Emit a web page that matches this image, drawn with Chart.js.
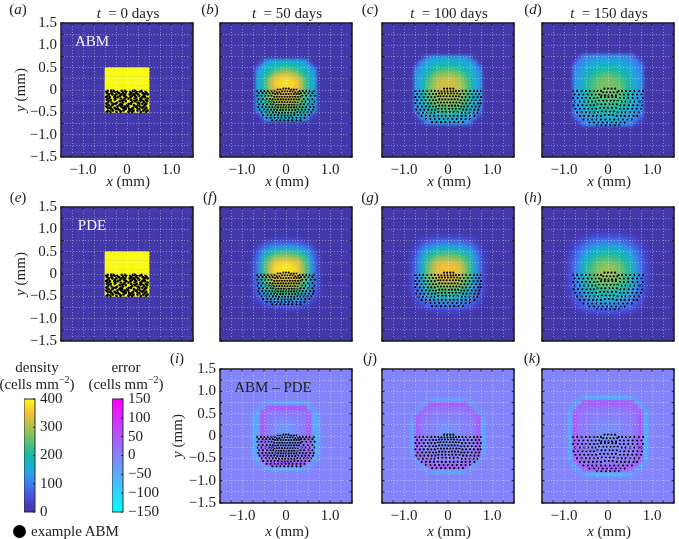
<!DOCTYPE html>
<html>
<head>
<meta charset="utf-8">
<title>ABM and PDE density</title>
<script src="https://cdn.jsdelivr.net/npm/chart.js@4/dist/chart.umd.min.js"></script>
<style>
html, body { margin: 0; padding: 0; background: #fff; overflow: hidden; }
#page { position: relative; width: 679px; height: 539px; overflow: hidden; font-family: "Liberation Serif", serif; color: #222; }
canvas { position: absolute; }
.t { position: absolute; font-size: 15px; line-height: 1; white-space: nowrap; transform: translate(-50%, -50%); }
.t sup { font-size: 10px; line-height: 0; }
.r { transform: translate(-50%, -50%) rotate(-90deg); }
.w { color: #f4f4ff; }
#dot { position: absolute; left: 13px; top: 525px; width: 13px; height: 13px; border-radius: 50%; background: #000; }
</style>
</head>
<body>
<div id="page"><div id="dot"></div></div>
<script>
// tick labels
const xTickLabels = [-1, 0, 1];
const yTickLabels = [-1.5, -1, -0.5, 0, 0.5, 1, 1.5];
const densityTicks = [0, 100, 200, 300, 400];
const errorTicks = [-150, -100, -50, 0, 50, 100, 150];
const densityLevels = [0,10,20,30,40,50,60,70,80,90,100,110,120,130,140,150,160,170,180,190,200,210,220,230,240,250,260,270,280,290,300,310,320,330,340,350,360,370,380,390];
const errorLevels = [-150,-140,-130,-120,-110,-100,-90,-80,-70,-60,-50,-40,-30,-20,-10,0,10,20,30,40,50,60,70,80,90,100,110,120,130,140];

// density, square windows of cells centred on the origin (cells mm^-2)
const densityBg = 8;
const errorBg = 0;
const abm0 = [
[400,400,400,400,400,400,400,400,400,400],
[400,400,400,400,400,400,400,400,400,400],
[400,400,400,400,400,400,400,400,400,400],
[400,400,400,400,400,400,400,400,400,400],
[400,400,400,400,400,400,400,400,400,400],
[400,400,400,400,400,400,400,400,400,400],
[400,400,400,400,400,400,400,400,400,400],
[400,400,400,400,400,400,400,400,400,400],
[400,400,400,400,400,400,400,400,400,400],
[400,400,400,400,400,400,400,400,400,400]];
const abm50 = [
[8,40,125,140,150,155,160,160,155,150,140,125,40,8],
[40,135,155,170,185,195,205,205,195,185,170,155,135,40],
[125,150,175,205,230,250,260,260,250,230,205,175,150,125],
[140,165,200,245,285,315,330,330,315,285,245,200,165,140],
[150,180,235,295,340,362,372,372,362,340,295,235,180,150],
[150,185,245,310,355,375,382,382,375,355,310,245,185,150],
[150,185,245,305,350,368,375,375,368,350,305,245,185,150],
[150,180,240,295,335,355,362,362,355,335,295,240,180,150],
[150,178,230,280,315,335,342,342,335,315,280,230,178,150],
[145,172,220,265,295,315,322,322,315,295,265,220,172,145],
[140,165,205,240,270,285,292,292,285,270,240,205,165,140],
[130,155,185,215,235,250,255,255,250,235,215,185,155,130],
[40,140,160,180,195,205,210,210,205,195,180,160,140,40],
[8,40,130,145,155,160,165,165,160,155,145,130,40,8]];
const abm100 = [
[8,8,70,120,130,135,140,140,140,140,135,130,120,70,8,8],
[8,95,130,145,155,160,165,170,170,165,160,155,145,130,95,8],
[70,130,150,165,180,190,200,205,205,200,190,180,165,150,130,70],
[115,140,165,190,210,230,245,250,250,245,230,210,190,165,140,115],
[125,150,180,215,245,270,285,290,290,285,270,245,215,180,150,125],
[130,155,195,235,270,295,312,318,318,312,295,270,235,195,155,130],
[130,160,205,250,285,310,325,332,332,325,310,285,250,205,160,130],
[130,160,205,250,285,310,325,330,330,325,310,285,250,205,160,130],
[130,160,205,245,280,305,318,322,322,318,305,280,245,205,160,130],
[130,155,200,240,270,295,305,310,310,305,295,270,240,200,155,130],
[130,155,190,225,255,280,290,295,295,290,280,255,225,190,155,130],
[125,150,180,210,235,255,265,270,270,265,255,235,210,180,150,125],
[115,140,165,190,210,225,235,240,240,235,225,210,190,165,140,115],
[70,130,150,170,185,195,205,208,208,205,195,185,170,150,130,70],
[8,95,130,145,155,165,170,172,172,170,165,155,145,130,95,8],
[8,8,70,120,130,135,140,140,140,140,135,130,120,70,8,8]];
const abm150 = [
[8,35,95,110,115,118,120,120,120,120,118,115,110,95,35,8],
[35,105,115,125,135,140,145,148,148,145,140,135,125,115,105,35],
[95,115,130,145,155,165,172,178,178,172,165,155,145,130,115,95],
[110,125,145,165,180,195,205,210,210,205,195,180,165,145,125,110],
[115,130,160,185,205,220,232,238,238,232,220,205,185,160,130,115],
[118,140,170,200,222,240,252,258,258,252,240,222,200,170,140,118],
[120,145,175,210,235,252,265,270,270,265,252,235,210,175,145,120],
[120,145,178,212,238,255,268,272,272,268,255,238,212,178,145,120],
[120,145,175,210,235,250,262,266,266,262,250,235,210,175,145,120],
[120,145,172,205,228,243,252,256,256,252,243,228,205,172,145,120],
[120,140,165,195,218,232,240,245,245,240,232,218,195,165,140,120],
[118,135,158,182,202,215,222,226,226,222,215,202,182,158,135,118],
[112,128,148,168,185,195,202,205,205,202,195,185,168,148,128,112],
[95,118,135,150,165,175,180,183,183,180,175,165,150,135,118,95],
[35,105,120,130,142,150,155,158,158,155,150,142,130,120,105,35],
[8,35,95,110,118,122,125,125,125,125,122,118,110,95,35,8]];
const pde50 = [
[8,8,12,18,25,30,34,36,36,34,30,25,18,12,8,8],
[8,15,40,65,85,95,100,105,105,100,95,85,65,40,15,8],
[12,40,90,125,145,160,170,175,175,170,160,145,125,90,40,12],
[18,65,125,175,205,225,240,245,245,240,225,205,175,125,65,18],
[25,80,150,215,265,295,310,318,318,310,295,265,215,150,80,25],
[28,90,165,240,305,345,362,370,370,362,345,305,240,165,90,28],
[30,95,175,255,325,368,385,390,390,385,368,325,255,175,95,30],
[30,95,175,255,325,365,382,388,388,382,365,325,255,175,95,30],
[30,95,172,250,315,355,372,378,378,372,355,315,250,172,95,30],
[28,90,165,235,295,335,350,355,355,350,335,295,235,165,90,28],
[28,85,155,215,265,300,315,320,320,315,300,265,215,155,85,28],
[25,75,135,185,225,250,262,268,268,262,250,225,185,135,75,25],
[20,62,110,150,180,200,210,215,215,210,200,180,150,110,62,20],
[14,40,80,110,135,150,158,162,162,158,150,135,110,80,40,14],
[8,18,40,65,85,95,100,105,105,100,95,85,65,40,18,8],
[8,8,12,20,28,34,36,38,38,36,34,28,20,12,8,8]];
const pde100 = [
[8,8,8,12,16,20,24,26,28,28,26,24,20,16,12,8,8,8],
[8,8,20,38,50,58,64,68,70,70,68,64,58,50,38,20,8,8],
[8,20,50,78,95,108,118,124,128,128,124,118,108,95,78,50,20,8],
[12,35,78,115,140,158,170,178,182,182,178,170,158,140,115,78,35,12],
[16,50,100,145,180,205,222,232,238,238,232,222,205,180,145,100,50,16],
[20,60,115,170,215,250,272,285,290,290,285,272,250,215,170,115,60,20],
[22,65,125,185,240,285,315,330,338,338,330,315,285,240,185,125,65,22],
[25,70,130,195,255,305,338,352,358,358,352,338,305,255,195,130,70,25],
[25,70,132,198,258,308,340,355,360,360,355,340,308,258,198,132,70,25],
[25,70,130,195,252,300,330,345,350,350,345,330,300,252,195,130,70,25],
[22,68,125,185,240,282,310,325,330,330,325,310,282,240,185,125,68,22],
[22,62,118,172,222,258,282,295,300,300,295,282,258,222,172,118,62,22],
[20,55,105,152,195,225,245,255,260,260,255,245,225,195,152,105,55,20],
[16,46,90,130,165,190,205,215,218,218,215,205,190,165,130,90,46,16],
[12,32,68,102,130,150,162,170,172,172,170,162,150,130,102,68,32,12],
[8,18,45,70,90,105,115,120,122,122,120,115,105,90,70,45,18,8],
[8,8,20,34,46,54,60,64,66,66,64,60,54,46,34,20,8,8],
[8,8,8,12,16,20,22,24,26,26,24,22,20,16,12,8,8,8]];
const pde150 = [
[8,8,8,8,8,10,14,16,18,18,18,18,16,14,10,8,8,8,8,8],
[8,8,10,16,24,32,38,44,48,50,50,48,44,38,32,24,16,10,8,8],
[8,10,20,34,50,64,76,84,90,92,92,90,84,76,64,50,34,20,10,8],
[10,18,36,58,80,98,112,122,128,132,132,128,122,112,98,80,58,36,18,10],
[10,26,52,80,106,128,145,158,166,170,170,166,158,145,128,106,80,52,26,10],
[14,34,66,100,130,155,175,190,200,205,205,200,190,175,155,130,100,66,34,14],
[16,40,76,116,150,180,203,220,232,238,238,232,220,203,180,150,116,76,40,16],
[18,44,84,128,165,198,225,245,258,265,265,258,245,225,198,165,128,84,44,18],
[20,48,90,136,176,212,242,265,280,288,288,280,265,242,212,176,136,90,48,20],
[20,48,92,140,180,218,250,272,288,296,296,288,272,250,218,180,140,92,48,20],
[20,48,92,138,178,215,245,268,282,290,290,282,268,245,215,178,138,92,48,20],
[20,48,90,134,172,208,236,256,270,278,278,270,256,236,208,172,134,90,48,20],
[18,44,84,126,162,195,222,240,252,258,258,252,240,222,195,162,126,84,44,18],
[16,40,76,114,148,176,198,214,225,230,230,225,214,198,176,148,114,76,40,16],
[14,34,66,98,128,152,172,186,195,200,200,195,186,172,152,128,98,66,34,14],
[12,28,54,82,108,128,145,158,165,170,170,165,158,145,128,108,82,54,28,12],
[10,20,40,64,86,102,116,125,130,134,134,130,125,116,102,86,64,40,20,10],
[8,12,24,42,58,72,82,90,95,97,97,95,90,82,72,58,42,24,12,8],
[8,8,12,20,30,38,46,50,54,55,55,54,50,46,38,30,20,12,8,8],
[8,8,8,8,8,10,14,16,18,18,18,18,16,14,10,8,8,8,8,8]];

// ABM - PDE error
const err50 = [
[0,0,-12,-32,-42,-46,-46,-46,-46,-46,-46,-42,-32,-12,0,0],
[0,-20,-36,42,52,55,55,55,55,55,55,52,42,-36,-20,0],
[-12,-40,42,22,16,14,12,12,12,12,14,16,22,42,-40,-12],
[-32,-46,50,14,8,5,3,2,2,3,5,8,14,50,-46,-32],
[-40,-46,55,12,4,0,-5,-8,-8,-5,0,4,12,55,-46,-40],
[-40,-46,55,10,2,-6,-14,-18,-18,-14,-6,2,10,55,-46,-40],
[-40,-46,55,10,0,-10,-20,-26,-26,-20,-10,0,10,55,-46,-40],
[-40,-46,55,10,0,-12,-22,-28,-28,-22,-12,0,10,55,-46,-40],
[-40,-46,55,10,0,-12,-22,-28,-28,-22,-12,0,10,55,-46,-40],
[-40,-46,55,10,0,-10,-20,-26,-26,-20,-10,0,10,55,-46,-40],
[-40,-46,55,10,2,-6,-14,-18,-18,-14,-6,2,10,55,-46,-40],
[-40,-46,55,12,4,0,-5,-8,-8,-5,0,4,12,55,-46,-40],
[-32,-46,50,14,8,5,3,2,2,3,5,8,14,50,-46,-32],
[-12,-40,42,22,16,14,12,12,12,12,14,16,22,42,-40,-12],
[0,-20,-36,42,52,55,55,55,55,55,55,52,42,-36,-20,0],
[0,0,-12,-32,-42,-46,-46,-46,-46,-46,-46,-42,-32,-12,0,0]];
const err100 = [
[0,0,0,-12,-26,-36,-44,-44,-44,-44,-44,-44,-36,-26,-12,0,0,0],
[0,0,-14,-34,42,50,52,52,52,52,52,52,50,42,-34,-14,0,0],
[0,-10,-34,42,22,16,14,14,14,14,14,14,16,22,42,-34,-10,0],
[-4,-30,38,22,12,10,8,6,5,5,6,8,10,12,22,38,-30,-4],
[-24,42,24,12,8,5,3,2,1,1,2,3,5,8,12,24,42,-24],
[-38,50,14,8,5,2,0,-4,-6,-6,-4,0,2,5,8,14,50,-38],
[-44,52,12,6,4,0,-6,-12,-15,-15,-12,-6,0,4,6,12,52,-44],
[-44,52,12,6,3,-2,-10,-16,-20,-20,-16,-10,-2,3,6,12,52,-44],
[-44,52,12,6,3,-3,-12,-18,-22,-22,-18,-12,-3,3,6,12,52,-44],
[-44,52,12,6,3,-3,-12,-18,-22,-22,-18,-12,-3,3,6,12,52,-44],
[-44,52,12,6,3,-2,-10,-16,-20,-20,-16,-10,-2,3,6,12,52,-44],
[-44,52,12,6,4,0,-6,-12,-15,-15,-12,-6,0,4,6,12,52,-44],
[-38,50,14,8,5,2,0,-4,-6,-6,-4,0,2,5,8,14,50,-38],
[-24,42,24,12,8,5,3,2,1,1,2,3,5,8,12,24,42,-24],
[-4,-30,38,22,12,10,8,6,5,5,6,8,10,12,22,38,-30,-4],
[0,-10,-34,42,22,16,14,14,14,14,14,14,16,22,42,-34,-10,0],
[0,0,-14,-34,42,50,52,52,52,52,52,52,50,42,-34,-14,0,0],
[0,0,0,-12,-26,-36,-44,-44,-44,-44,-44,-44,-36,-26,-12,0,0,0]];
const err150 = [
[0,0,-16,-36,-50,-58,-60,-60,-60,-60,-60,-60,-58,-50,-36,-16,0,0],
[0,-22,-42,48,58,60,60,60,60,60,60,60,60,58,48,-42,-22,0],
[-16,-46,48,28,22,20,18,16,16,16,16,18,20,22,28,48,-46,-16],
[-42,46,28,16,14,12,10,9,8,8,9,10,12,14,16,28,46,-42],
[-56,56,20,12,10,6,4,3,2,2,3,4,6,10,12,20,56,-56],
[-60,60,18,10,8,3,0,-2,-4,-4,-2,0,3,8,10,18,60,-60],
[-60,60,16,9,6,2,-4,-8,-10,-10,-8,-4,2,6,9,16,60,-60],
[-60,60,15,8,5,0,-6,-12,-15,-15,-12,-6,0,5,8,15,60,-60],
[-60,60,15,8,5,0,-8,-14,-18,-18,-14,-8,0,5,8,15,60,-60],
[-60,60,15,8,5,0,-8,-14,-18,-18,-14,-8,0,5,8,15,60,-60],
[-60,60,15,8,5,0,-6,-12,-15,-15,-12,-6,0,5,8,15,60,-60],
[-60,60,16,9,6,2,-4,-8,-10,-10,-8,-4,2,6,9,16,60,-60],
[-60,60,18,10,8,3,0,-2,-4,-4,-2,0,3,8,10,18,60,-60],
[-56,56,20,12,10,6,4,3,2,2,3,4,6,10,12,20,56,-56],
[-42,46,28,16,14,12,10,9,8,8,9,10,12,14,16,28,46,-42],
[-16,-46,48,28,22,20,18,16,16,16,16,18,20,22,28,48,-46,-16],
[0,-22,-42,48,58,60,60,60,60,60,60,60,60,58,48,-42,-22,0],
[0,0,-16,-36,-50,-58,-60,-60,-60,-60,-60,-60,-58,-50,-36,-16,0,0]];

// example ABM cells, each row is [y, x, x, x, ...] in mm
const dots0 = [
[-0.02,-0.44,-0.36,-0.31,-0.12,-0.05,0.14,0.18,0.33],
[-0.04,-0.47,-0.28,-0.22,-0.02,0.07,0.22,0.29,0.42],
[-0.07,-0.45,-0.35,-0.18,-0.09,0.1,0.2,0.36,0.45],
[-0.1,-0.41,-0.33,-0.24,-0.13,-0.04,0.06,0.15,0.25,0.4,0.47],
[-0.13,-0.44,-0.27,-0.16,-0.07,0.11,0.18,0.28,0.38],
[-0.16,-0.47,-0.39,-0.29,-0.21,-0.02,0.08,0.21,0.35,0.41],
[-0.19,-0.42,-0.25,-0.14,-0.05,0.03,0.17,0.3,0.47],
[-0.22,-0.46,-0.37,-0.28,-0.08,0.09,0.22,0.33,0.43],
[-0.25,-0.41,-0.17,-0.12,-0.03,0.15,0.19,0.29,0.37,0.46],
[-0.28,-0.44,-0.35,-0.23,-0.09,0.1,0.24,0.4],
[-0.31,-0.47,-0.3,-0.25,-0.14,0.04,0.09,0.28,0.35,0.44],
[-0.34,-0.42,-0.33,-0.17,-0.11,0,0.16,0.25,0.41],
[-0.37,-0.47,-0.37,-0.22,-0.13,-0.05,0.03,0.2,0.3,0.38],
[-0.4,-0.44,-0.39,-0.28,-0.09,-0.02,0.14,0.23,0.35,0.44],
[-0.43,-0.35,-0.25,-0.2,-0.04,0.05,0.1,0.28,0.41],
[-0.46,-0.43,-0.32,-0.16,-0.08,0.07,0.15,0.24,0.37,0.47],
[-0.49,-0.46,-0.38,-0.24,-0.14,0.03,0.12,0.31,0.43]];
const dots50 = [
[0.03,-0.06,0,0.06],
[0.01,-0.19,-0.13,0.12,0.18,0.24],
[-0.02,-0.66,-0.57,-0.49,-0.41,-0.33,-0.26,0.31,0.38,0.46,0.54,0.63],
[-0.03,-0.09,-0.03,0.03,0.09,0.15],
[-0.05,-0.21,-0.15,0.21,0.27],
[-0.07,-0.62,-0.53,-0.45,-0.37,-0.3,0.34,0.42,0.51,0.6],
[-0.09,-0.25,-0.19,-0.12,-0.06,0,0.06,0.12,0.18,0.24,0.3],
[-0.13,-0.65,-0.56,-0.48,-0.4,-0.33,0.37,0.46,0.56,0.65],
[-0.15,-0.27,-0.21,-0.15,-0.09,-0.03,0.03,0.09,0.15,0.21,0.27,0.33],
[-0.2,-0.62,-0.53,-0.44,-0.36,0.4,0.5,0.6],
[-0.21,-0.3,-0.24,-0.18,-0.12,-0.06,0,0.06,0.12,0.18,0.24,0.3],
[-0.26,-0.65,-0.56,-0.47,-0.39,-0.33,0.36,0.44,0.54,0.64],
[-0.27,-0.27,-0.21,-0.15,-0.09,-0.03,0.03,0.09,0.15,0.21,0.27],
[-0.32,-0.61,-0.52,-0.43,-0.35,-0.29,0.33,0.41,0.51,0.6],
[-0.33,-0.23,-0.17,-0.11,-0.05,0.01,0.07,0.13,0.19,0.26],
[-0.38,-0.63,-0.54,-0.46,-0.38,-0.31,0.31,0.38,0.46,0.55,0.63],
[-0.39,-0.24,-0.18,-0.12,-0.06,0,0.06,0.12,0.18,0.24],
[-0.44,-0.6,-0.5,-0.42,-0.34,-0.27,0.28,0.36,0.44,0.52,0.61],
[-0.45,-0.2,-0.13,-0.07,0,0.07,0.14,0.21],
[-0.5,-0.55,-0.46,-0.38,-0.3,-0.23,0.26,0.33,0.41,0.49,0.57],
[-0.51,-0.16,-0.09,-0.02,0.05,0.12,0.19],
[-0.56,-0.52,-0.42,-0.34,-0.26,-0.18,0.19,0.27,0.35,0.44,0.53],
[-0.57,-0.1,-0.03,0.04,0.11],
[-0.62,-0.44,-0.35,-0.26,-0.18,-0.1,-0.01,0.07,0.15,0.24,0.33,0.42],
[-0.68,-0.31,-0.22,-0.13,-0.04,0.05,0.14,0.24,0.33]];
const dots100 = [
[0.03,-0.09,-0.02,0.05,0.12],
[-0.02,-0.74,-0.65,-0.56,-0.47,-0.38,-0.3,-0.22,0.18,0.25,0.33,0.41,0.5,0.59,0.67,0.75],
[-0.03,-0.15,-0.08,-0.01,0.06,0.12],
[-0.09,-0.7,-0.6,-0.51,-0.42,-0.34,-0.27,0.28,0.36,0.45,0.54,0.63,0.71],
[-0.08,-0.2,-0.14,-0.07,0,0.07,0.14,0.21],
[-0.16,-0.74,-0.65,-0.55,-0.46,-0.38,-0.3,0.32,0.4,0.49,0.58,0.67,0.75],
[-0.14,-0.23,-0.17,-0.1,-0.03,0.04,0.11,0.18,0.25],
[-0.23,-0.7,-0.6,-0.51,-0.42,-0.34,-0.27,0.29,0.37,0.45,0.54,0.63,0.72],
[-0.21,-0.2,-0.13,-0.06,0.01,0.08,0.15,0.22],
[-0.3,-0.74,-0.64,-0.55,-0.46,-0.38,-0.3,0.33,0.41,0.5,0.59,0.68,0.74],
[-0.28,-0.23,-0.16,-0.09,-0.02,0.05,0.12,0.19,0.26],
[-0.37,-0.69,-0.59,-0.5,-0.42,-0.34,-0.27,0.3,0.37,0.45,0.54,0.63,0.71],
[-0.35,-0.2,-0.13,-0.06,0.02,0.09,0.16,0.23],
[-0.44,-0.72,-0.63,-0.54,-0.45,-0.37,-0.29,0.34,0.42,0.51,0.6,0.69],
[-0.42,-0.22,-0.14,-0.06,0.02,0.1,0.18,0.26],
[-0.51,-0.67,-0.57,-0.48,-0.39,-0.31,0.31,0.4,0.49,0.58,0.67],
[-0.49,-0.22,-0.13,-0.05,0.04,0.13,0.22],
[-0.58,-0.6,-0.5,-0.41,-0.32,-0.23,-0.14,-0.05,0.04,0.13,0.22,0.31,0.4,0.5,0.6],
[-0.65,-0.5,-0.4,-0.3,-0.2,-0.1,0,0.1,0.2,0.3,0.4,0.5],
[-0.72,-0.36,-0.26,-0.16,-0.06,0.04,0.14,0.24,0.34]];
const dots150 = [
[0.03,-0.08,0,0.08,0.16],
[-0.02,-0.8,-0.7,-0.6,-0.5,-0.41,-0.32,-0.24,-0.16,0.24,0.32,0.41,0.5,0.6,0.7,0.8],
[-0.05,-0.11,-0.03,0.05,0.13,0.21],
[-0.1,-0.76,-0.66,-0.56,-0.46,-0.37,-0.28,-0.2,0.27,0.36,0.46,0.56,0.66,0.76],
[-0.12,-0.15,-0.07,0.01,0.09,0.18],
[-0.18,-0.79,-0.69,-0.59,-0.5,-0.41,-0.32,-0.24,0.27,0.36,0.46,0.56,0.67,0.79],
[-0.16,-0.16,-0.07,0.01,0.1,0.18],
[-0.26,-0.75,-0.64,-0.54,-0.45,-0.36,-0.28,0.31,0.4,0.5,0.6,0.7,0.76],
[-0.24,-0.2,-0.11,-0.03,0.06,0.14,0.22],
[-0.34,-0.78,-0.68,-0.58,-0.49,-0.4,-0.32,0.28,0.37,0.47,0.57,0.67,0.77],
[-0.32,-0.24,-0.15,-0.06,0.03,0.11,0.2],
[-0.42,-0.74,-0.64,-0.54,-0.45,-0.36,-0.27,0.27,0.36,0.45,0.55,0.65,0.75],
[-0.4,-0.18,-0.09,0,0.09,0.18],
[-0.5,-0.7,-0.6,-0.5,-0.41,-0.32,-0.23,0.22,0.31,0.4,0.5,0.6,0.7],
[-0.48,-0.14,-0.05,0.04,0.13],
[-0.58,-0.64,-0.54,-0.44,-0.34,-0.25,-0.16,0.2,0.29,0.38,0.48,0.58,0.66],
[-0.56,-0.07,0.02,0.11],
[-0.66,-0.56,-0.46,-0.36,-0.26,-0.16,-0.06,0.04,0.14,0.24,0.34,0.44,0.54],
[-0.73,-0.42,-0.32,-0.22,-0.12,-0.02,0.08,0.18,0.28,0.38],
[-0.79,-0.25,-0.15,-0.05,0.05,0.15,0.25]];

// colour maps
const densityStops = [[0,66,52,160],[50,72,74,218],[100,63,124,240],[150,30,170,220],[200,18,184,170],[250,92,194,112],[300,172,194,78],[350,245,188,60],[400,249,251,21]];
const errorStops = [[-150,0,255,255],[0,132,132,250],[150,255,0,255]];

function colorAt(stops, v) {
	let i = 0;
	while (i < stops.length - 2 && v > stops[i + 1][0]) i++;
	const a = stops[i], b = stops[i + 1];
	const f = Math.max(0, Math.min(1, (v - a[0]) / (b[0] - a[0])));
	const c = [1, 2, 3].map(k => Math.round(a[k] + (b[k] - a[k]) * f));
	return 'rgb(' + c.join(',') + ')';
}

// 0.1 mm background cells over the whole panel, then the read window at its own cell size
function heatCells(rows, bg, step) {
	const out = [];
	for (let r = 0; r < 30; r++) {
		for (let c = 0; c < 30; c++) {
			out.push({ x: (c - 14.5) / 10, y: (14.5 - r) / 10, v: bg, size: 0.1 });
		}
	}
	const half = (rows.length - 1) / 2;
	rows.forEach((row, r) => row.forEach((v, c) => {
		out.push({ x: (c - half) * step, y: (half - r) * step, v: v, size: step });
	}));
	return out;
}

function dotPoints(rows) {
	const out = [];
	rows.forEach(row => row.slice(1).forEach(x => out.push({ x: x, y: row[0] })));
	return out;
}

function tickText(v) {
	if (Math.abs(v) < 1e-9) return '0';
	return (v < 0 ? '\u2212' : '') + Math.abs(v).toFixed(1);
}

const inList = (list, v) => list.some(t => Math.abs(t - v) < 1e-6);

const blurPlugin = {
	id: 'heatBlur',
	afterDatasetDraw(chart, args, opts) {
		if (!opts.radius || args.index !== 0) return;
		const a = chart.chartArea, ctx = chart.ctx;
		const w = a.right - a.left, h = a.bottom - a.top;
		ctx.save();
		ctx.beginPath();
		ctx.rect(a.left, a.top, w, h);
		ctx.clip();
		ctx.filter = 'blur(' + opts.radius + 'px)';
		ctx.drawImage(chart.canvas, a.left, a.top, w, h, a.left, a.top, w, h);
		ctx.restore();
	}
};

const framePlugin = {
	id: 'panelFrame',
	afterDraw(chart) {
		const a = chart.chartArea, ctx = chart.ctx;
		const len = 2.5;
		ctx.save();
		ctx.strokeStyle = '#1a1a22';
		ctx.lineWidth = 1;
		ctx.beginPath();
		chart.scales.x.ticks.forEach(t => {
			const p = chart.scales.x.getPixelForValue(t.value);
			ctx.moveTo(p, a.top); ctx.lineTo(p, a.top + len);
			ctx.moveTo(p, a.bottom); ctx.lineTo(p, a.bottom - len);
		});
		chart.scales.y.ticks.forEach(t => {
			const p = chart.scales.y.getPixelForValue(t.value);
			ctx.moveTo(a.left, p); ctx.lineTo(a.left + len, p);
			ctx.moveTo(a.right, p); ctx.lineTo(a.right - len, p);
		});
		ctx.stroke();
		ctx.lineWidth = 1.5;
		ctx.strokeRect(a.left, a.top, a.right - a.left, a.bottom - a.top);
		ctx.restore();
	}
};

const page = document.getElementById('page');

function addText(html, x, y, cls) {
	const s = document.createElement('span');
	s.className = 't ' + (cls || '');
	s.style.left = x + 'px';
	s.style.top = y + 'px';
	s.innerHTML = html;
	page.appendChild(s);
}

function addCanvas(left, top, width, height) {
	const c = document.createElement('canvas');
	c.width = width;
	c.height = height;
	c.style.left = left + 'px';
	c.style.top = top + 'px';
	c.style.width = width + 'px';
	c.style.height = height + 'px';
	page.appendChild(c);
	return c;
}

function noScalePadding(s) {
	s.paddingTop = 0;
	s.paddingBottom = 0;
	s.paddingLeft = 0;
	s.paddingRight = 0;
}

const marginL = 50, marginT = 6, marginB = 24, marginR = 1;

function drawPanel(p) {
	const w = 135, h = 134;
	const canvas = addCanvas(p.left - marginL, p.top - marginT, w + marginL + marginR, h + marginT + marginB);
	const stops = p.error ? errorStops : densityStops;
	const cells = heatCells(p.heat, p.error ? errorBg : densityBg, p.step);
	const tickFont = { family: '"Liberation Serif", serif', size: 15 };
	new Chart(canvas, {
		type: 'scatter',
		data: {
			datasets: [{
				data: cells,
				order: 2,
				pointStyle: 'rect',
				// side of a rect point is radius * sqrt(2), cells overlap a little to hide seams
				pointRadius: cells.map(c => (c.size * 45 + 0.5) / Math.SQRT2),
				pointBorderWidth: 0,
				pointBackgroundColor: cells.map(c => colorAt(stops, c.v))
			}, {
				data: dotPoints(p.dots),
				order: 1,
				pointRadius: p.dotSize,
				pointBorderWidth: 0,
				pointBackgroundColor: '#000'
			}]
		},
		options: {
			responsive: false,
			animation: false,
			events: [],
			layout: { padding: { top: marginT, right: marginR, left: 0, bottom: 0 } },
			plugins: { legend: { display: false }, tooltip: { enabled: false }, heatBlur: { radius: p.blur } },
			scales: {
				x: {
					type: 'linear', min: -1.5, max: 1.5,
					afterFit: s => { s.height = marginB; noScalePadding(s); },
					grid: { color: 'rgba(255,255,255,0.38)', z: 1, drawTicks: false },
					border: { display: false, dash: [1, 2] },
					ticks: {
						stepSize: 0.25, autoSkip: false, maxRotation: 0, padding: 4, color: '#222', font: tickFont,
						callback: v => (p.xLabels && inList(xTickLabels, v)) ? tickText(v) : ''
					}
				},
				y: {
					type: 'linear', min: -1.5, max: 1.5,
					afterFit: s => { s.width = marginL; noScalePadding(s); },
					grid: { color: 'rgba(255,255,255,0.38)', z: 1, drawTicks: false },
					border: { display: false, dash: [1, 2] },
					ticks: {
						stepSize: 0.25, autoSkip: false, padding: 4, color: '#222', font: tickFont,
						callback: v => (p.yLabels && inList(yTickLabels, v)) ? tickText(v) : ''
					}
				}
			}
		},
		plugins: [blurPlugin, framePlugin]
	});
}

function drawColorbar(left, levels, step, ticks, stops, min, max) {
	const canvas = addCanvas(left, 391, 60, 130);
	new Chart(canvas, {
		type: 'bar',
		data: {
			labels: ['c'],
			datasets: levels.map(v => ({
				// floating bars overlap the next level so no seam shows
				data: [[v - min, v - min + step * 1.5]],
				backgroundColor: colorAt(stops, v + step / 2),
				borderWidth: 0,
				grouped: false,
				barPercentage: 1,
				categoryPercentage: 1
			})).reverse()
		},
		options: {
			responsive: false,
			animation: false,
			events: [],
			layout: { padding: { top: 8, bottom: 9 } },
			plugins: { legend: { display: false }, tooltip: { enabled: false } },
			scales: {
				x: { display: false },
				y: {
					type: 'linear', position: 'right',
					min: 0, max: max - min,
					afterFit: s => { s.width = 49; noScalePadding(s); },
					grid: { display: false, drawTicks: false },
					border: { display: false },
					ticks: {
						stepSize: ticks[1] - ticks[0], autoSkip: false, padding: 5, color: '#222',
						font: { family: '"Liberation Serif", serif', size: 15 },
						callback: v => {
							const t = v + min;
							return t < 0 ? '\u2212' + Math.abs(t) : String(t);
						}
					}
				}
			}
		},
		plugins: [{
			id: 'barFrame',
			afterDraw(chart) {
				const a = chart.chartArea, ctx = chart.ctx;
				ctx.save();
				ctx.strokeStyle = '#2a2a2a';
				ctx.lineWidth = 1;
				ctx.beginPath();
				chart.scales.y.ticks.forEach(t => {
					const p = chart.scales.y.getPixelForValue(t.value);
					ctx.moveTo(a.right, p); ctx.lineTo(a.right - 2, p);
				});
				ctx.stroke();
				ctx.strokeRect(a.left, a.top, a.right - a.left, a.bottom - a.top);
				ctx.restore();
			}
		}]
	});
}

const colX = [61, 220, 382, 542];
const rowY = [23, 207, 369];

drawPanel({ left: colX[0], top: rowY[0], heat: abm0, step: 0.1, dots: dots0, dotSize: 1.35, blur: 0, xLabels: true, yLabels: true });
drawPanel({ left: colX[1], top: rowY[0], heat: abm50, step: 0.0985, dots: dots50, dotSize: 1.05, blur: 1.6, xLabels: true });
drawPanel({ left: colX[2], top: rowY[0], heat: abm100, step: 0.096, dots: dots100, dotSize: 1.05, blur: 1.6, xLabels: true });
drawPanel({ left: colX[3], top: rowY[0], heat: abm150, step: 0.1, dots: dots150, dotSize: 1.05, blur: 1.6, xLabels: true });
drawPanel({ left: colX[0], top: rowY[1], heat: abm0, step: 0.1, dots: dots0, dotSize: 1.35, blur: 0, yLabels: true });
drawPanel({ left: colX[1], top: rowY[1], heat: pde50, step: 0.1, dots: dots50, dotSize: 1.05, blur: 2.5 });
drawPanel({ left: colX[2], top: rowY[1], heat: pde100, step: 0.1, dots: dots100, dotSize: 1.05, blur: 2.5 });
drawPanel({ left: colX[3], top: rowY[1], heat: pde150, step: 0.1, dots: dots150, dotSize: 1.05, blur: 2.5 });
drawPanel({ left: colX[1], top: rowY[2], heat: err50, step: 0.097, dots: dots50, dotSize: 1.05, blur: 0.9, error: true, xLabels: true, yLabels: true });
drawPanel({ left: colX[2], top: rowY[2], heat: err100, step: 0.094, dots: dots100, dotSize: 1.05, blur: 0.9, error: true, xLabels: true });
drawPanel({ left: colX[3], top: rowY[2], heat: err150, step: 0.1, dots: dots150, dotSize: 1.05, blur: 0.9, error: true, xLabels: true });

drawColorbar(24, densityLevels, 10, densityTicks, densityStops, 0, 400);
drawColorbar(112, errorLevels, 10, errorTicks, errorStops, -150, 150);

// titles and labels
const times = ['0', '50', '100', '150'];
times.forEach((t, i) => addText('<i>t</i>&nbsp; = ' + t + ' days', colX[i] + 67, 13));
const letters = [['a',18,9],['b',210,9],['c',370,9],['d',533,9],['e',18,197],['f',210,197],['g',370,197],['h',533,197],['i',177,358],['j',370,358],['k',532,358]];
letters.forEach(l => addText('(<i>' + l[0] + '</i>)', l[1], l[2]));
[[colX[0],181],[colX[1],181],[colX[2],181],[colX[3],181],[colX[1],531],[colX[2],531],[colX[3],531]].forEach(a => addText('<i>x</i> (mm)', a[0] + 67, a[1]));
addText('<i>y</i> (mm)', 20, 90, 'r');
addText('<i>y</i> (mm)', 20, 274, 'r');
addText('<i>y</i> (mm)', 177, 436, 'r');
addText('ABM', 92, 41, 'w');
addText('PDE', 92, 225, 'w');
addText('ABM \u2013 PDE', 273, 387);
addText('density', 37, 367);
addText('(cells mm<sup>\u22122</sup>)', 37, 384);
addText('error', 126, 367);
addText('(cells mm<sup>\u22122</sup>)', 126, 384);
addText('example ABM', 75, 531);
</script>
</body>
</html>
